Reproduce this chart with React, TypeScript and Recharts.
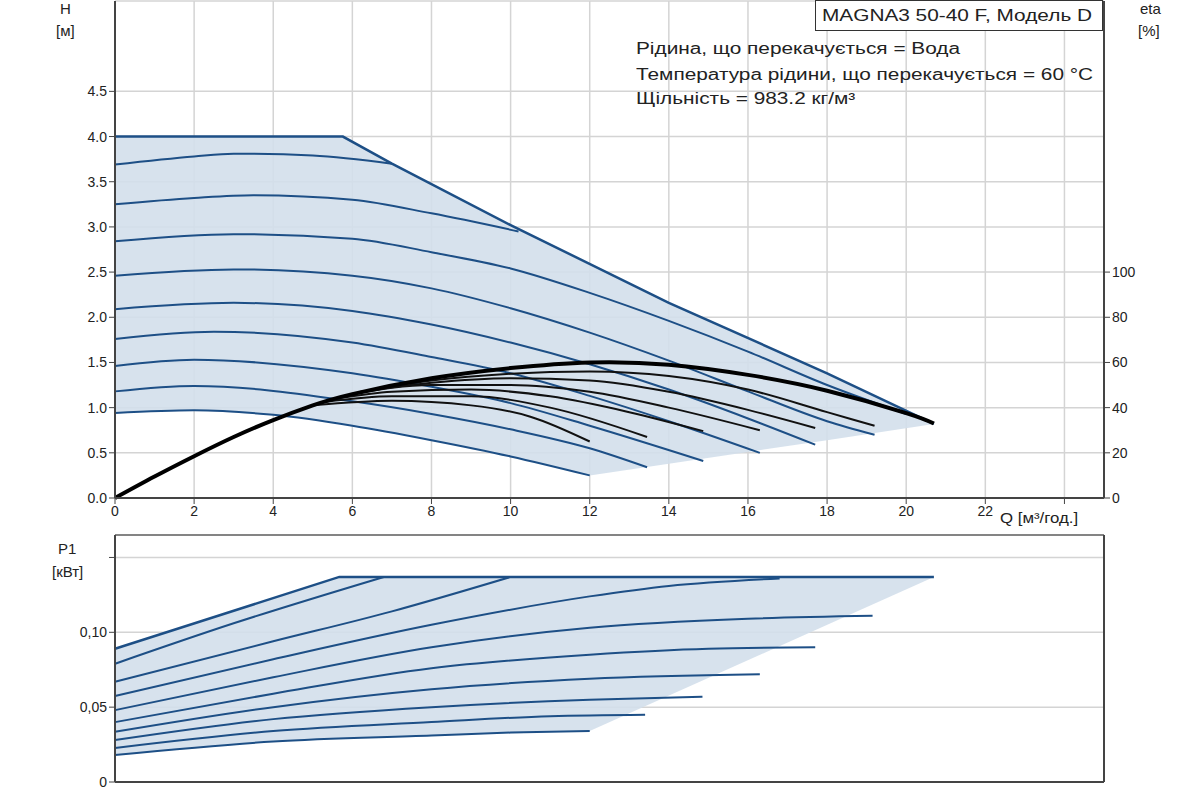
import { Area, CartesianGrid, ComposedChart, Line, ReferenceLine, XAxis, YAxis } from 'recharts';

type Pt = [number, number];

// H curves [Q m3/h, H m]
const headMax: Pt[] = [[0, 4.0], [5.76, 4.0], [7, 3.7], [10, 3.02], [14, 2.16], [18, 1.38], [20.7, 0.82]];
const headCurves: Pt[][] = [
  [[0, 3.69], [2, 3.78], [3, 3.81], [5, 3.79], [7, 3.7]],
  [[0, 3.25], [2, 3.32], [3.5, 3.35], [6, 3.3], [8, 3.15], [10.2, 2.95]],
  [[0, 2.84], [3, 2.92], [6, 2.87], [8, 2.72], [10, 2.54], [12, 2.27], [14, 1.96], [16, 1.62], [18, 1.25], [20, 0.93]],
  [[0, 2.46], [3, 2.53], [6, 2.46], [8, 2.32], [10, 2.1], [12, 1.83], [14, 1.52], [16, 1.18], [18, 0.85], [19.2, 0.7]],
  [[0, 2.09], [3, 2.16], [6, 2.07], [8, 1.92], [10, 1.72], [12, 1.48], [14, 1.2], [16, 0.88], [17.7, 0.59]],
  [[0, 1.76], [2.5, 1.84], [6, 1.72], [8, 1.56], [10, 1.38], [12, 1.13], [14, 0.85], [16.3, 0.5]],
  [[0, 1.46], [2, 1.53], [6, 1.38], [8, 1.23], [10, 1.05], [12, 0.8], [14.87, 0.41]],
  [[0, 1.18], [2, 1.24], [6, 1.07], [8, 0.93], [10, 0.76], [12, 0.55], [13.45, 0.34]],
  [[0, 0.94], [2, 0.97], [4, 0.92], [6, 0.8], [8, 0.64], [10, 0.46], [12, 0.25]],
];
// shaded band [Q, low, high]
const headBand: [number, number, number][] = [
  [0, 0.94, 4.0], [2, 0.97, 4.0], [4, 0.92, 4.0], [5.76, 0.82, 4.0], [7, 0.72, 3.7], [8, 0.64, 3.48],
  [10, 0.46, 3.02], [12, 0.25, 2.58], [14, 0.38, 2.16], [16, 0.51, 1.77], [18, 0.64, 1.38], [20.7, 0.82, 0.82],
];

// eta curves [Q, %]
const etaMain: Pt[] = [[0, 0], [1, 9.5], [2, 18.5], [3, 27], [4, 34.5], [5, 41], [6, 46], [8, 53], [10, 57.5], [12, 60], [14, 59], [16, 54.5], [18, 47.5], [20, 37.6], [20.7, 33]];
const etaCurves: Pt[][] = [
  [[6.5, 48], [8, 52], [10, 55], [12, 56], [14, 54], [16, 48], [18, 38], [19.2, 32]],
  [[6.2, 47], [8, 51], [10, 53], [12, 52], [14, 47], [16, 39], [17.7, 31]],
  [[6, 46], [8, 50], [10, 50], [12, 47], [14, 40], [16.3, 30]],
  [[5.6, 44], [7, 47], [9, 48], [11, 45], [13, 38], [14.87, 29.6]],
  [[5.3, 42.5], [7, 45], [9, 45], [11, 40], [13.45, 27]],
  [[5, 41], [7, 43], [9, 41], [10.5, 36], [12, 25]],
];

// P1 curves [Q, kW]
const powerMax: Pt[] = [[0, 0.089], [5.67, 0.137], [20.7, 0.137]];
const powerCurves: Pt[][] = [
  [[0, 0.079], [3, 0.106], [6.8, 0.137]],
  [[0, 0.067], [4, 0.094], [7, 0.114], [10, 0.137]],
  [[0, 0.0575], [4, 0.082], [8, 0.105], [12, 0.124], [14, 0.131], [16.8, 0.136]],
  [[0, 0.048], [4, 0.07], [8, 0.09], [12, 0.103], [16, 0.109], [19.15, 0.111]],
  [[0, 0.04], [4, 0.059], [8, 0.076], [12, 0.085], [15, 0.089], [17.7, 0.09]],
  [[0, 0.0335], [4, 0.05], [8, 0.062], [12, 0.069], [16.3, 0.072]],
  [[0, 0.028], [4, 0.042], [8, 0.05], [12, 0.055], [14.85, 0.057]],
  [[0, 0.0227], [4, 0.034], [8, 0.04], [11, 0.044], [13.4, 0.045]],
  [[0, 0.018], [4, 0.027], [8, 0.031], [10, 0.033], [12, 0.034]],
];
const powerBand: [number, number, number][] = [
  [0, 0.018, 0.089], [4, 0.027, 0.123], [5.67, 0.029, 0.137], [8, 0.031, 0.137], [12, 0.034, 0.137], [20.7, 0.137, 0.137],
];

const qTicks = [0, 2, 4, 6, 8, 10, 12, 14, 16, 18, 20, 22, 24];
const hTicks = [0, 0.5, 1, 1.5, 2, 2.5, 3, 3.5, 4, 4.5];
const etaTicks = [0, 20, 40, 60, 80, 100];
const pTicks = [0, 0.05, 0.1, 0.15];

const BLUE = '#1d4f86';
const FILL = '#d3dfeb';
const FONT = 'Liberation Sans, Arial, sans-serif';
const tick = { fill: '#222', fontSize: 14, fontFamily: FONT };

const toRows = (pts: Pt[]) => pts.map(([q, v]) => ({ q, v }));
const toBand = (rows: [number, number, number][]) => rows.map(([q, lo, hi]) => ({ q, band: [lo, hi] }));

const label = (text: string, left: number, top: number, extra: object = {}) => (
  <div style={{ position: 'absolute', left, top, fontSize: 15, fontFamily: FONT, color: '#222', whiteSpace: 'nowrap', ...extra }}>
    {text}
  </div>
);
const wide = { fontSize: 16, transform: 'scaleX(1.3)', transformOrigin: 'left top' };

export default function App() {
  return (
    <div style={{ position: 'fixed', left: 0, top: 0, width: 1200, height: 800, background: '#fff', overflow: 'hidden' }}>
      <div style={{ position: 'absolute', left: 0, top: 0 }}>
        <ComposedChart width={1200} height={530} data={toBand(headBand)} margin={{ top: 1, right: 0, left: 0, bottom: 0 }}>
          <CartesianGrid yAxisId="h" stroke="#d4d4d4" strokeWidth={1.5} />
          <XAxis
            dataKey="q"
            type="number"
            domain={[0, 25]}
            ticks={qTicks}
            tick={tick}
            tickFormatter={(v: number) => (v === 24 ? '' : String(v))}
            axisLine={{ stroke: '#444', strokeWidth: 2 }}
            tickLine={{ stroke: '#444' }}
            height={32}
          />
          <YAxis
            yAxisId="h"
            domain={[0, 5.5]}
            ticks={hTicks}
            tick={tick}
            tickFormatter={(v: number) => v.toFixed(1)}
            axisLine={{ stroke: '#444', strokeWidth: 2 }}
            tickLine={{ stroke: '#444' }}
            width={115}
          />
          <YAxis
            yAxisId="eta"
            orientation="right"
            domain={[0, 220]}
            ticks={etaTicks}
            tick={tick}
            axisLine={{ stroke: '#444', strokeWidth: 2 }}
            tickLine={{ stroke: '#444' }}
            width={96}
          />
          <Area yAxisId="h" dataKey="band" type="linear" stroke="none" fill={FILL} fillOpacity={0.9} isAnimationActive={false} />
          {headCurves.map((c, i) => (
            <Line key={`h${i}`} yAxisId="h" data={toRows(c)} dataKey="v" type="monotone" stroke={BLUE} strokeWidth={2} dot={false} isAnimationActive={false} />
          ))}
          <Line yAxisId="h" data={toRows(headMax)} dataKey="v" type="linear" stroke={BLUE} strokeWidth={2.5} dot={false} isAnimationActive={false} />
          {etaCurves.map((c, i) => (
            <Line key={`e${i}`} yAxisId="eta" data={toRows(c)} dataKey="v" type="monotone" stroke="#111" strokeWidth={2} dot={false} isAnimationActive={false} />
          ))}
          <Line yAxisId="eta" data={toRows(etaMain)} dataKey="v" type="natural" stroke="#000" strokeWidth={4} dot={false} isAnimationActive={false} />
        </ComposedChart>
      </div>

      <div style={{ position: 'absolute', left: 0, top: 534 }}>
        <ComposedChart width={1200} height={258} data={toBand(powerBand)} margin={{ top: 1, right: 0, left: 0, bottom: 0 }}>
          <CartesianGrid yAxisId="p" stroke="#d4d4d4" strokeWidth={1.5} />
          <XAxis dataKey="q" type="number" domain={[0, 25]} ticks={qTicks} tick={false} axisLine={{ stroke: '#444', strokeWidth: 2 }} tickLine={{ stroke: '#444' }} height={10} />
          <YAxis
            yAxisId="p"
            domain={[0, 0.165]}
            ticks={pTicks}
            tick={tick}
            tickFormatter={(v: number) => (v === 0 ? '0' : v === 0.15 ? '' : v.toFixed(2).replace('.', ','))}
            axisLine={{ stroke: '#444', strokeWidth: 2 }}
            tickLine={{ stroke: '#444' }}
            width={115}
          />
          <YAxis yAxisId="r" orientation="right" domain={[0, 1]} tick={false} axisLine={{ stroke: '#444', strokeWidth: 2 }} tickLine={false} width={96} />
          <ReferenceLine yAxisId="p" y={0.165} stroke="#666" strokeWidth={1.5} />
          <Area yAxisId="p" dataKey="band" type="linear" stroke="none" fill={FILL} fillOpacity={0.9} isAnimationActive={false} />
          {powerCurves.map((c, i) => (
            <Line key={`p${i}`} yAxisId="p" data={toRows(c)} dataKey="v" type="monotone" stroke={BLUE} strokeWidth={2} dot={false} isAnimationActive={false} />
          ))}
          <Line yAxisId="p" data={toRows(powerMax)} dataKey="v" type="linear" stroke={BLUE} strokeWidth={2.5} dot={false} isAnimationActive={false} />
        </ComposedChart>
      </div>

      {label('H', 60, 0)}
      {label('[м]', 56, 22)}
      {label('eta', 1140, 0)}
      {label('[%]', 1138, 22)}
      {label('P1', 58, 540)}
      {label('[кВт]', 52, 563)}
      {label('Q [м³/год.]', 1000, 510, { fontSize: 14, transform: 'scaleX(1.2)', transformOrigin: 'left top' })}
      <div style={{ position: 'absolute', left: 815, top: 0, width: 288, height: 31, border: '1px solid #333', background: '#fff', boxSizing: 'border-box' }}>
        {label('MAGNA3 50-40 F, Модель D', 6, 6, wide)}
      </div>
      {label('Рідина, що перекачується = Вода', 636, 40, wide)}
      {label('Температура рідини, що перекачується = 60 °C', 636, 66, wide)}
      {label('Щільність = 983.2 кг/м³', 636, 90, wide)}
    </div>
  );
}
